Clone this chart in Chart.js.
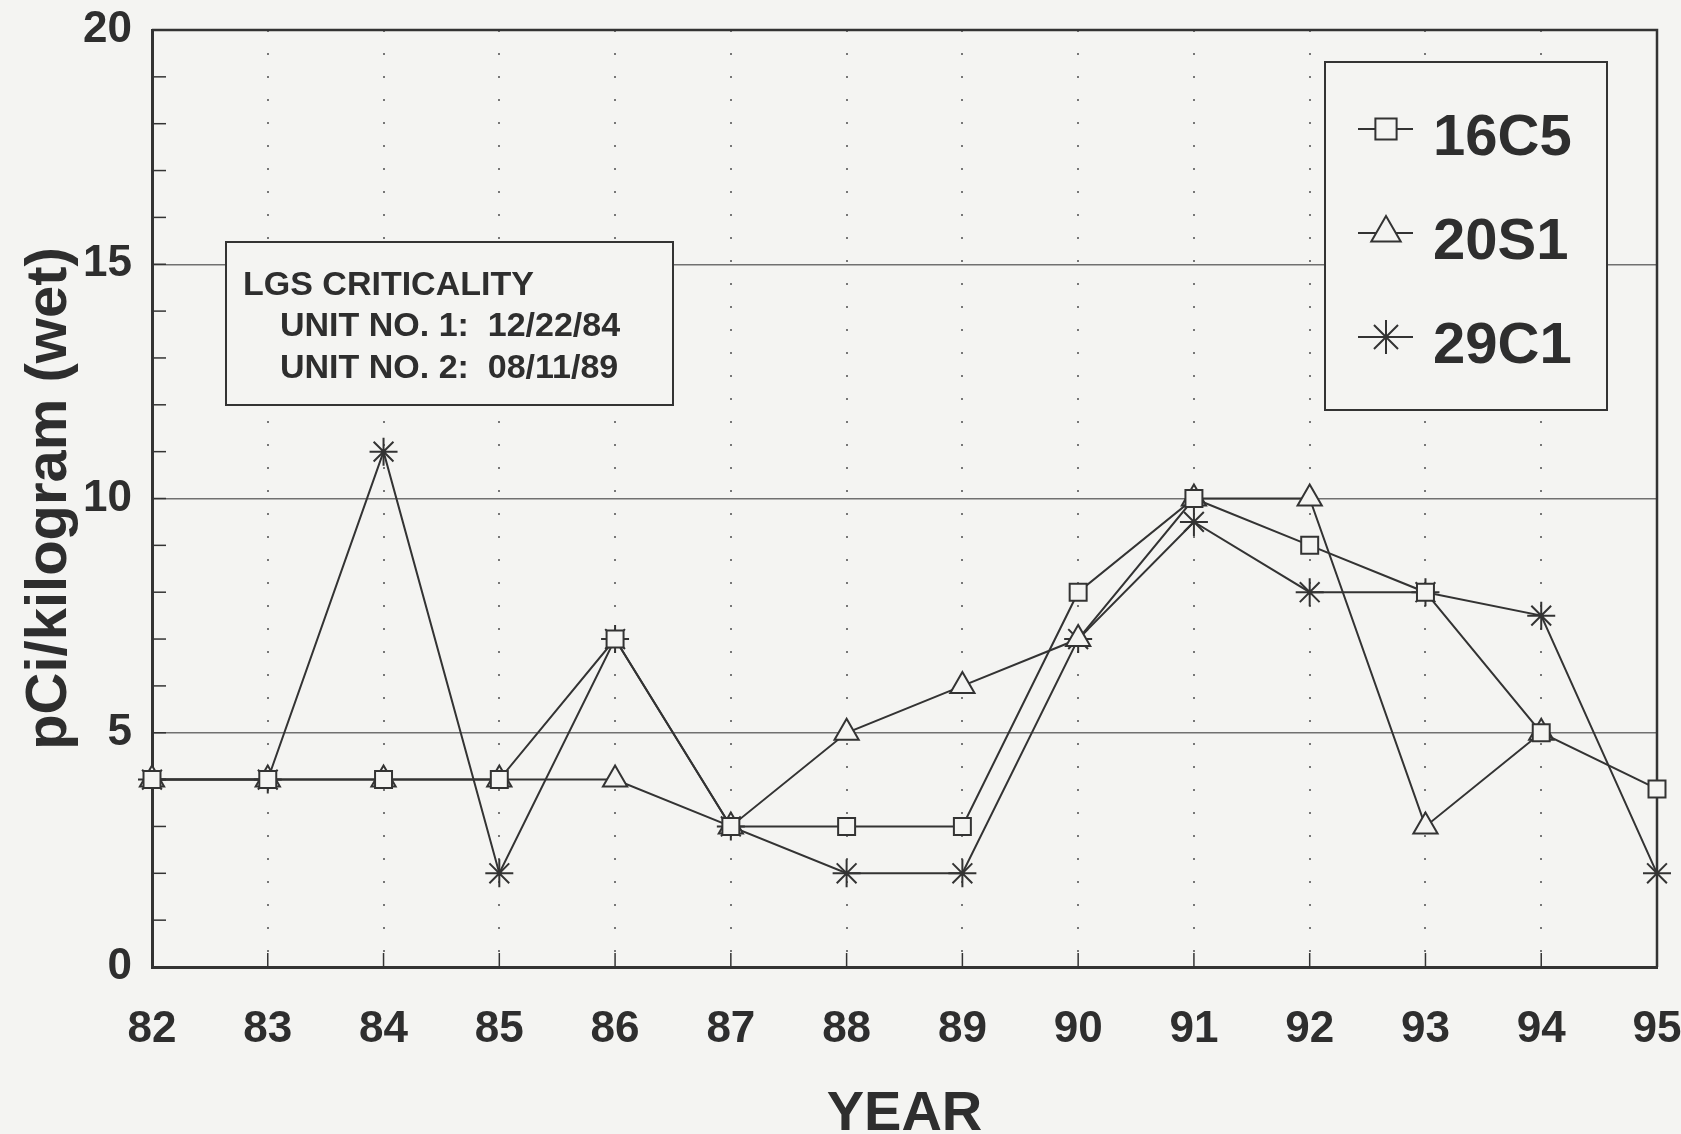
<!DOCTYPE html>
<html>
<head>
<meta charset="utf-8">
<script src="https://cdn.jsdelivr.net/npm/chart.js@4.4.1/dist/chart.umd.min.js"></script>
<style>
  html, body { margin: 0; padding: 0; background: #f4f4f2; }
</style>
</head>
<body>
<canvas id="chart" width="1681" height="1134"></canvas>
<script>
// values
const years = ["82", "83", "84", "85", "86", "87", "88", "89", "90", "91", "92", "93", "94", "95"];
const s16C5 = [4, 4, 4, 4, 7, 3, 3, 3, 8, 10, 9, 8, 5, 3.8];
const s20S1 = [4, 4, 4, 4, 4, 3, 5, 6, 7, 10, 10, 3, 5, null];
const s29C1 = [4, 4, 11, 2, 7, 3, 2, 2, 7, 9.5, 8, 8, 7.5, 2];
const yTicks = [0, 5, 10, 15, 20];
const noteLines = ["LGS CRITICALITY", "UNIT NO. 1:  12/22/84", "UNIT NO. 2:  08/11/89"];

const ink = "#333";
const paper = "#f4f4f2";
const fam = "'Liberation Sans', Arial, Helvetica, sans-serif";

// frame, inner tick marks
const framePlugin = {
  id: "frame",
  beforeDatasetsDraw(chart) {
    const { ctx, chartArea: a, scales } = chart;
    ctx.save();
    ctx.strokeStyle = ink;
    ctx.lineWidth = 1.5;
    for (let v = 1; v < 20; v++) {
      const y = scales.y.getPixelForValue(v);
      ctx.beginPath();
      ctx.moveTo(a.left, y);
      ctx.lineTo(a.left + 14, y);
      ctx.stroke();
    }
    years.forEach((yr, i) => {
      const x = scales.x.getPixelForValue(i);
      ctx.beginPath();
      ctx.moveTo(x, a.bottom);
      ctx.lineTo(x, a.bottom - 14);
      ctx.stroke();
    });
    ctx.lineWidth = 2.5;
    ctx.beginPath();
    ctx.moveTo(a.left, a.top);
    ctx.lineTo(a.right, a.top);
    ctx.lineTo(a.right, a.bottom);
    ctx.stroke();
    ctx.restore();
  }
};

// note box and legend box
const boxesPlugin = {
  id: "boxes",
  afterDraw(chart) {
    const ctx = chart.ctx;
    ctx.save();
    ctx.lineWidth = 2;
    ctx.strokeStyle = ink;
    ctx.fillStyle = paper;

    ctx.fillRect(226, 242, 447, 163);
    ctx.strokeRect(226, 242, 447, 163);
    ctx.fillStyle = "#2e2e2e";
    ctx.font = "bold 34px " + fam;
    ctx.textBaseline = "middle";
    ctx.textAlign = "left";
    ctx.fillText(noteLines[0], 243, 286);
    ctx.fillText(noteLines[1], 280, 327);
    ctx.fillText(noteLines[2], 280, 369);

    ctx.fillStyle = paper;
    ctx.fillRect(1325, 62, 282, 348);
    ctx.strokeRect(1325, 62, 282, 348);
    chart.data.datasets.forEach((ds, i) => {
      const ty = 139 + i * 104;
      const my = ty - 10;
      ctx.strokeStyle = ink;
      ctx.lineWidth = 2;
      ctx.beginPath();
      ctx.moveTo(1358, my);
      ctx.lineTo(1413, my);
      ctx.stroke();
      ctx.fillStyle = paper;
      Chart.helpers.drawPoint(ctx, { pointStyle: ds.pointStyle, radius: ds.pointRadius + 3, borderWidth: 2, rotation: 0 }, 1386, my);
      ctx.fillStyle = "#2e2e2e";
      ctx.font = "bold 58px " + fam;
      ctx.fillText(ds.label, 1433, ty);
    });
    ctx.restore();
  }
};

function series(label, data, style, r) {
  return {
    label: label,
    data: data,
    borderColor: ink,
    borderWidth: 2,
    pointStyle: style,
    pointRadius: r,
    pointBackgroundColor: paper,
    pointBorderColor: ink,
    pointBorderWidth: 2,
    tension: 0
  };
}

new Chart(document.getElementById("chart"), {
  type: "line",
  data: {
    labels: years,
    datasets: [
      series("16C5", s16C5, "rect", 12),
      series("20S1", s20S1, "triangle", 14),
      series("29C1", s29C1, "star", 14)
    ]
  },
  options: {
    responsive: false,
    devicePixelRatio: 1,
    animation: false,
    events: [],
    layout: { padding: { top: 30, right: 24, left: 0, bottom: 0 } },
    plugins: { legend: { display: false }, tooltip: { enabled: false } },
    scales: {
      x: {
        type: "category",
        offset: false,
        grid: { color: "#777", lineWidth: 2, drawTicks: false },
        border: { color: ink, width: 3, dash: [2, 21] },
        ticks: { color: "#2e2e2e", font: { family: fam, size: 44, weight: "bold" }, padding: 36, maxRotation: 0, autoSkip: false },
        title: { display: true, text: "YEAR", color: "#2e2e2e", font: { family: fam, size: 56, weight: "bold", lineHeight: 0.7 }, padding: 0 },
        afterFit: s => { s.height = 167; s.paddingLeft = 0; s.paddingRight = 0; }
      },
      y: {
        min: 0,
        max: 20,
        afterBuildTicks: s => { s.ticks = yTicks.map(v => ({ value: v })); },
        grid: {
          color: c => (c.tick && c.tick.value > 0 && c.tick.value < 20) ? "#707070" : "transparent",
          lineWidth: 1.5,
          drawTicks: false
        },
        border: { color: ink, width: 3 },
        ticks: { color: "#2e2e2e", font: { family: fam, size: 44, weight: "bold" }, padding: 20 },
        title: { display: true, text: "pCi/kilogram (wet)", color: "#2e2e2e", font: { family: fam, size: 58, weight: "bold" }, padding: { top: 15, bottom: 0 } },
        afterFit: s => { s.width = 152; s.paddingTop = 0; s.paddingBottom = 0; }
      }
    }
  },
  plugins: [framePlugin, boxesPlugin]
});
</script>
</body>
</html>
